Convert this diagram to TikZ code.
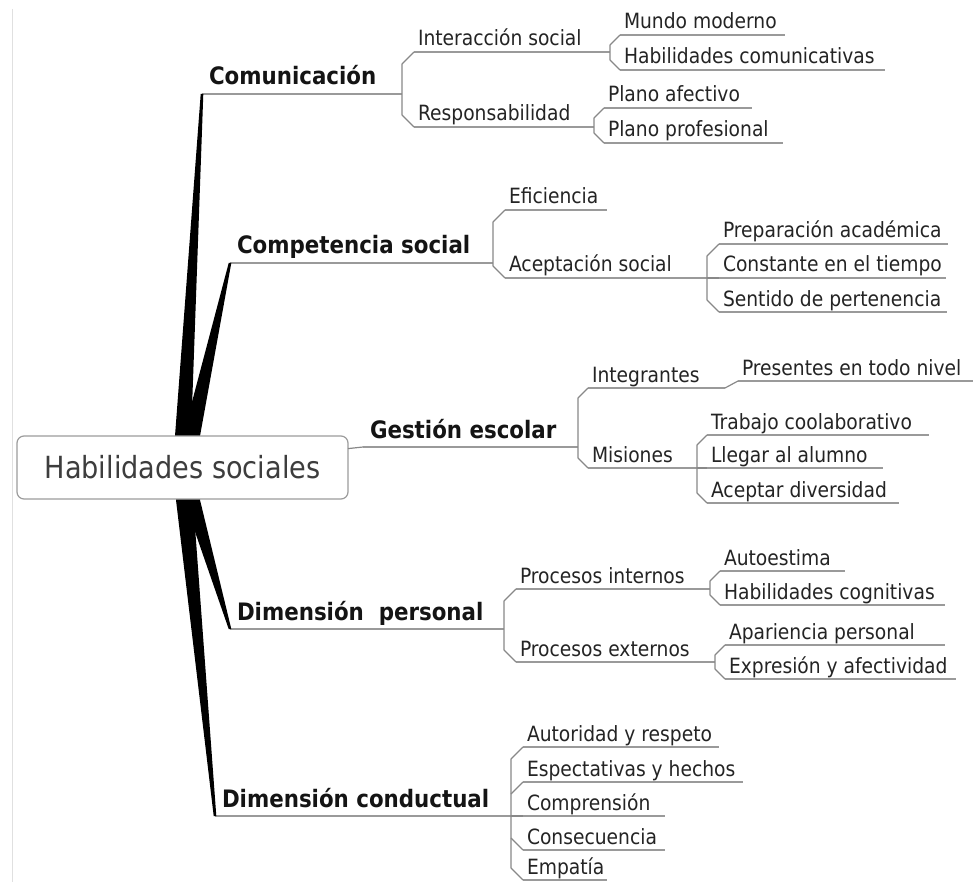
\documentclass[tikz,border=0pt]{standalone}
\usepackage{fontspec}
\setmainfont{DejaVu Sans}[FakeStretch=0.89]
\usetikzlibrary{calc}

\definecolor{rule}{HTML}{9A9A9A}
\definecolor{wire}{HTML}{888888}
\definecolor{rootline}{HTML}{9C9C9C}

\tikzset{
  every node/.style={inner sep=0pt, outer sep=0pt},
  toptext/.style={font=\fontsize{24}{28}\selectfont\bfseries, text=black!92, anchor=base west},
  subtext/.style={font=\fontsize{21}{25}\selectfont, text=black!86, anchor=base west},
  uline/.style={draw=rule, line width=1.2pt},
  wire/.style={draw=wire, line width=1.2pt, line join=round},
  limb/.style={fill=black},
  rootbox/.style={draw=rootline, fill=white, rounded corners=7pt, line width=1.2pt,
    minimum width=331pt, minimum height=63pt,
    font=\fontsize{30.5}{36}\selectfont, text=black!76},
}

% main topic: name, underline start x, end x, underline y, label
\newcommand\topic[5]{%
  \coordinate (#1-s) at (#2,#4);
  \coordinate (#1-e) at (#3,#4);
  \node[toptext] (#1) at ($(#1-s)+(7,-9)$) {#5};
  \draw[uline] (#1-s) -- (#1-e);
}
% subtopic: name, underline start x, end x, underline y, label
\newcommand\idea[5]{%
  \coordinate (#1-s) at (#2,#4);
  \coordinate (#1-e) at (#3,#4);
  \node[subtext] (#1) at ($(#1-s)+(4,-6)$) {#5};
  \draw[uline] (#1-s) -- (#1-e);
}

\begin{document}
\begin{tikzpicture}[x=1pt,y=-1pt]
\useasboundingbox (0,0) rectangle (973,882);
\fill[white] (0,0) rectangle (973,882);
\draw[black!12, line width=1pt] (12,9) -- (12,882);

% main topics
\topic{com}{202}{402}{94}{Comunicación}
\topic{comp}{230}{493}{263}{Competencia social}
\topic{ges}{363}{578}{447}{Gestión escolar}
\topic{dper}{230}{504}{629}{Dimensión\ \ personal}
\topic{dcon}{215}{511}{816}{Dimensión conductual}

% tapered limbs from the central topic
\fill[limb] ($(com-s)+(-1.3,0)$) -- ($(com-s)+(1.3,0)$) -- (191,436) -- (191,462) -- (175,462) -- (175,436) -- cycle;
\fill[limb] ($(comp-s)+(-1.3,0)$) -- ($(comp-s)+(1.3,0)$) -- (200,436) -- (200,462) -- (183,462) -- (183,436) -- cycle;
\fill[limb] ($(dper-s)+(-1.3,0)$) -- ($(dper-s)+(1.3,0)$) -- (200,500) -- (200,475) -- (184,475) -- (184,500) -- cycle;
\fill[limb] ($(dcon-s)+(-1.3,0)$) -- ($(dcon-s)+(1.3,0)$) -- (193,500) -- (193,475) -- (176,475) -- (176,500) -- cycle;

% central topic
\node[rootbox] (root) at (182.5,467.5) {Habilidades sociales};
\draw[wire] ($(root.north east)!0.2!(root.south east)$) -- (ges-s);

% Comunicación
\idea{inter}{414}{610}{52}{Interacción social}
\idea{resp}{414}{594}{127}{Responsabilidad}
\draw[wire] (inter-s) -- ++(-12,12) -- ($(resp-s)+(-12,-12)$) -- (resp-s);
\idea{mundo}{620}{785}{35}{Mundo moderno}
\idea{habc}{620}{885}{70}{Habilidades comunicativas}
\draw[wire] (mundo-s) -- ++(-10,10) -- ($(habc-s)+(-10,-10)$) -- (habc-s);
\idea{plaf}{604}{752}{108}{Plano afectivo}
\idea{plpr}{604}{783}{143}{Plano profesional}
\draw[wire] (plaf-s) -- ++(-10,10) -- ($(plpr-s)+(-10,-10)$) -- (plpr-s);

% Competencia social
\idea{efic}{505}{607}{210}{Eficiencia}
\idea{acep}{505}{707}{278}{Aceptación social}
\draw[wire] (efic-s) -- ++(-12,12) -- ($(acep-s)+(-12,-12)$) -- (acep-s);
\idea{prep}{719}{948}{244}{Preparación académica}
\idea{const}{719}{946}{278}{Constante en el tiempo}
\idea{sent}{719}{947}{312}{Sentido de pertenencia}
\draw[wire] (prep-s) -- ++(-12,12) -- ($(sent-s)+(-12,-12)$) -- (sent-s);
\draw[wire] (acep-e) -- (const-s);

% Gestión escolar
\idea{integ}{588}{725}{388}{Integrantes}
\idea{mis}{588}{697}{468}{Misiones}
\draw[wire] (integ-s) -- ++(-10,10) -- ($(mis-s)+(-10,-10)$) -- (mis-s);
\idea{pres}{738}{973}{381}{Presentes en todo nivel}
\draw[wire] (integ-e) -- (pres-s);
\idea{trab}{707}{929}{435}{Trabajo coolaborativo}
\idea{lleg}{707}{883}{468}{Llegar al alumno}
\idea{acepd}{707}{899}{503}{Aceptar diversidad}
\draw[wire] (trab-s) -- ++(-10,10) -- ($(acepd-s)+(-10,-10)$) -- (acepd-s);
\draw[wire] (mis-e) -- (lleg-s);

% Dimensión personal
\idea{pint}{516}{710}{589}{Procesos internos}
\idea{pext}{516}{715}{662}{Procesos externos}
\draw[wire] (pint-s) -- ++(-12,12) -- ($(pext-s)+(-12,-12)$) -- (pext-s);
\idea{autoe}{720}{845}{571}{Autoestima}
\idea{hcog}{720}{945}{605}{Habilidades cognitivas}
\draw[wire] (autoe-s) -- ++(-10,10) -- ($(hcog-s)+(-10,-10)$) -- (hcog-s);
\idea{apar}{725}{945}{645}{Apariencia personal}
\idea{expr}{725}{956}{679}{Expresión y afectividad}
\draw[wire] (apar-s) -- ++(-10,10) -- ($(expr-s)+(-10,-10)$) -- (expr-s);

% Dimensión conductual
\idea{autr}{523}{719}{747}{Autoridad y respeto}
\idea{espe}{523}{743}{782}{Espectativas y hechos}
\idea{compr}{523}{665}{816}{Comprensión}
\idea{conse}{523}{665}{850}{Consecuencia}
\idea{empa}{523}{607}{880}{Empatía}
\draw[wire] (autr-s) -- ++(-12,12) -- ($(empa-s)+(-12,-12)$) -- (empa-s);
\draw[wire] ($(espe-s)+(-12,12)$) -- (espe-s);
\draw[wire] ($(conse-s)+(-12,-12)$) -- (conse-s);
\draw[wire] (dcon-e) -- (compr-s);
\end{tikzpicture}
\end{document}
